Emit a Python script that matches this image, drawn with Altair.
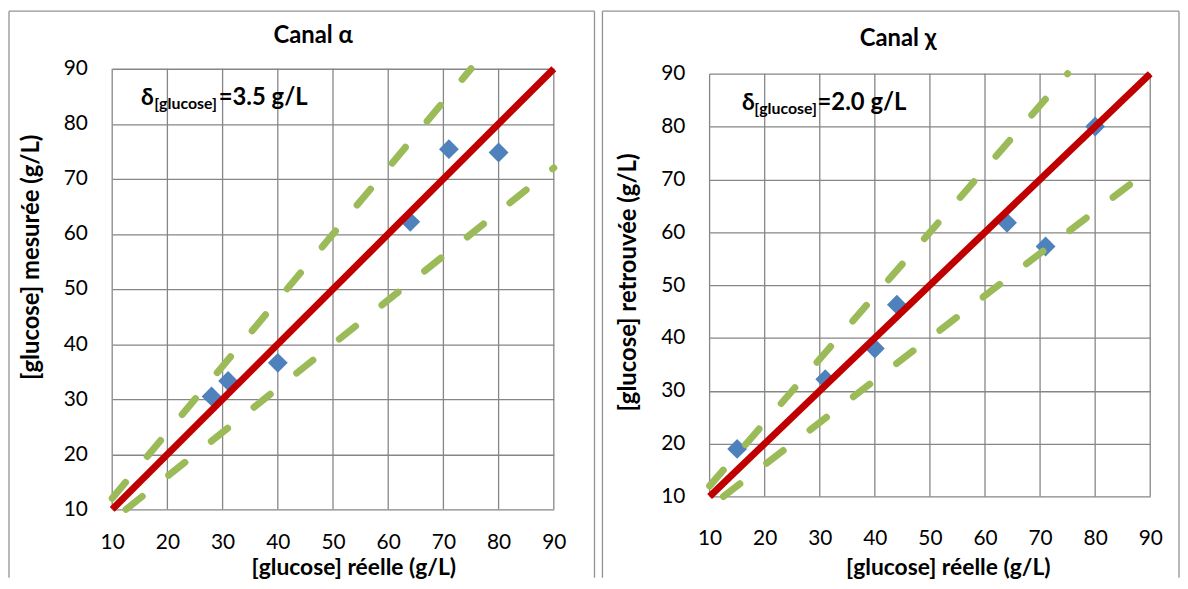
import altair as alt
import pandas as pd

# ---------------- data ----------------
alpha_reelle = [28, 31, 40, 64, 71, 80]
alpha_mesuree = [30.5, 33.3, 36.6, 62.2, 75.4, 74.8]

chi_reelle = [15, 31, 40, 44, 64, 71, 80]
chi_retrouvee = [19, 32.2, 38, 46.3, 61.8, 57.3, 80]

identity_x = [10, 90]
identity_y = [10, 90]
upper_x = [10, 75]      # +20 % limit
upper_y = [12, 90]
lower_x = [12.5, 90]    # -20 % limit
lower_y = [10, 72]

tick_values = [10, 20, 30, 40, 50, 60, 70, 80, 90]
panel_titles = ["Canal α", "Canal χ"]
y_titles = ["[glucose] mesurée (g/L)", "[glucose] retrouvée (g/L)"]
x_title = "[glucose] réelle (g/L)"
delta_symbol = "δ"
delta_sub = "[glucose]"
delta_values = ["=3.5 g/L", "=2.0 g/L"]

# ---------------- style ----------------
FONT = "Lato"
BLUE = "#4F81BD"
GREEN = "#9BBB59"
RED = "#C00000"
GRID = "#868686"
FRAME = "#929292"


def panel(xs, ys, title, ytitle, delta_val, width, height, lay):
    pts = pd.DataFrame({"x": xs, "y": ys})
    ident = pd.DataFrame({"x": identity_x, "y": identity_y})
    lim = pd.DataFrame({
        "x": upper_x + lower_x,
        "y": upper_y + lower_y,
        "s": ["haut", "haut", "bas", "bas"],
    })
    vgrid = pd.DataFrame({"x": tick_values,
                          "lo": [tick_values[0]] * len(tick_values),
                          "hi": [tick_values[-1]] * len(tick_values)})

    xscale = alt.Scale(domain=[10, 90], nice=False, zero=False)
    yscale = alt.Scale(domain=[10, 90], nice=False, zero=False,
                       range=[height, lay["ytop"]])

    xaxis = alt.Axis(
        values=tick_values, title=x_title, grid=False,
        domain=False, ticks=False, tickSize=0, labelFlush=False,
        labelFont=FONT, labelFontSize=21, labelColor="#000000",
        labelPadding=lay["xlab"], labelBaseline="middle",
        titleFont=FONT, titleFontSize=23, titleFontWeight="bold", titleColor="#000000",
        titleBaseline="middle", titleAlign="center",
        titleX=lay["xtx"], titleY=lay["xty"],
    )
    yaxis = alt.Axis(
        values=tick_values, title=ytitle, grid=True, gridColor=GRID, gridWidth=1.3,
        domain=False, ticks=False, tickSize=0, labelFlush=False,
        labelFont=FONT, labelFontSize=21, labelColor="#000000", labelPadding=25,
        titleFont=FONT, titleFontSize=24, titleFontWeight="bold", titleColor="#000000",
        titleBaseline="middle", titleAlign="center", titleAngle=270,
        titleX=lay["ytx"], titleY=lay["yty"],
    )

    X = alt.X("x:Q", scale=xscale, axis=xaxis)
    Y = alt.Y("y:Q", scale=yscale, axis=yaxis)
    Xn = alt.X("x:Q", scale=xscale)
    Yn = alt.Y("y:Q", scale=yscale)

    grid_v = alt.Chart(vgrid).mark_rule(color=GRID, strokeWidth=1.3).encode(
        x=Xn, y=alt.Y("lo:Q", scale=yscale), y2="hi:Q")

    points = alt.Chart(pts).mark_point(
        shape="diamond", filled=True, size=400, color=BLUE, opacity=1
    ).encode(x=X, y=Y)

    limits = alt.Chart(lim).mark_line(
        color=GREEN, strokeWidth=7, strokeDash=[21, 34], strokeCap="round"
    ).encode(x=Xn, y=Yn, detail="s:N")

    red = alt.Chart(ident).mark_line(color=RED, strokeWidth=7).encode(x=Xn, y=Yn)

    a = lay["ann"]
    t1 = alt.Chart(pd.DataFrame({"x": [a[0]], "y": [a[1]], "t": [delta_symbol]})).mark_text(
        font=FONT, fontSize=23, fontWeight="bold", align="left", baseline="alphabetic", color="#000"
    ).encode(x=Xn, y=Yn, text="t:N")
    t2 = alt.Chart(pd.DataFrame({"x": [a[2]], "y": [a[3]], "t": [delta_sub]})).mark_text(
        font=FONT, fontSize=16, fontWeight="bold", align="left", baseline="alphabetic", color="#000"
    ).encode(x=Xn, y=Yn, text="t:N")
    t3 = alt.Chart(pd.DataFrame({"x": [a[4]], "y": [a[5]], "t": [delta_val]})).mark_text(
        font=FONT, fontSize=24, fontWeight="bold", align="left", baseline="alphabetic", color="#000"
    ).encode(x=Xn, y=Yn, text="t:N")

    one = alt.Data(values=[{"k": 1}])
    ttl = alt.Chart(one).mark_text(
        font=FONT, fontSize=24, fontWeight="bold", align="center", baseline="alphabetic",
        color="#000", text=title,
    ).encode(x=alt.value(width / 2 + lay["tdx"]), y=alt.value(-lay["toff"]))

    f = lay["frame"]  # left, top, right, bottom relative to view origin
    fl = alt.Chart(one).mark_rule(color=FRAME, strokeWidth=1.3).encode(
        x=alt.value(f[0]), y=alt.value(f[1]), y2=alt.value(f[3]))
    fr = alt.Chart(one).mark_rule(color=FRAME, strokeWidth=1.3).encode(
        x=alt.value(f[2]), y=alt.value(f[1]), y2=alt.value(f[3]))
    ft = alt.Chart(one).mark_rule(color=FRAME, strokeWidth=1.3).encode(
        x=alt.value(f[0]), x2=alt.value(f[2]), y=alt.value(f[1]))

    return alt.layer(grid_v, points, limits, red, t1, t2, t3, ttl, fl, fr, ft).properties(
        width=width, height=height,
    )


left = panel(
    alpha_reelle, alpha_mesuree, panel_titles[0], y_titles[0], delta_values[0], 445, 444,
    dict(ytop=0, xlab=33, xtx=243, xty=59, ytx=-81, yty=189.5,
         ann=[15.2, 83.5, 17.6, 82.6, 29.3, 83.5],
         frame=[-104, -58, 486, 513], tdx=-20, toff=26),
)
right = panel(
    chi_reelle, chi_retrouvee, panel_titles[1], y_titles[1], delta_values[1], 444, 431,
    dict(ytop=5, xlab=42, xtx=240, xty=72, ytx=-82, yty=215,
         ann=[15.9, 83.2, 18.1, 82.3, 29.6, 83.2],
         frame=[-108, -58, 473, 513], tdx=-32, toff=23),
)

chart = alt.hconcat(left, right, spacing=6).properties(
    padding=0, background="white"
).configure_view(strokeWidth=0, stroke=None)

chart.save("out.html", embed_options={"renderer": "svg", "actions": False})
